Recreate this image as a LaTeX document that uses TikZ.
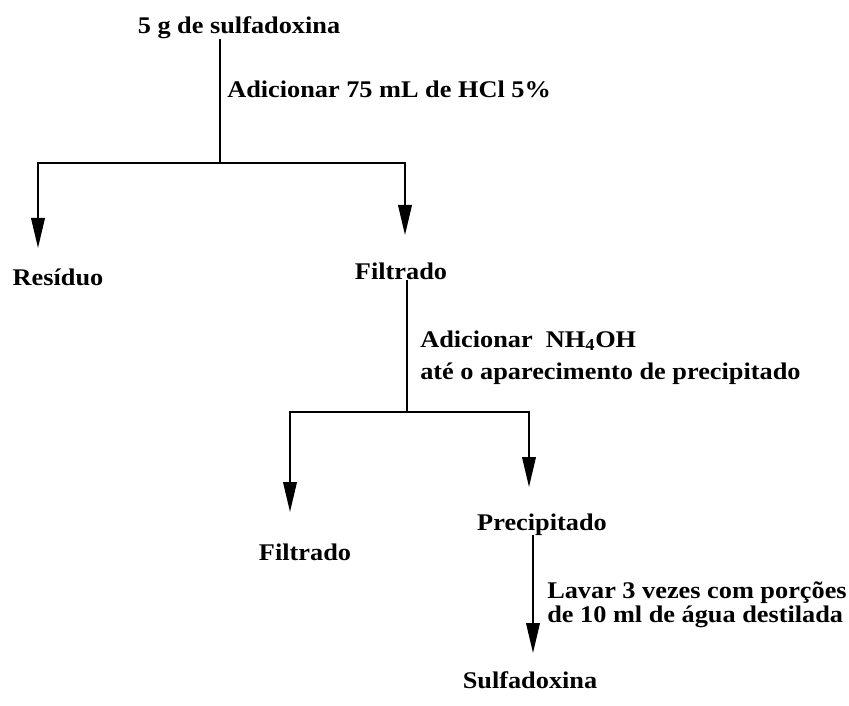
\documentclass[tikz,border=0pt]{standalone}
\usepackage{fontspec}
\setmainfont[FakeStretch=1.1]{Liberation Serif}
\usetikzlibrary{arrows.meta,calc}
\tikzset{>={Triangle[length=0.75cm,width=0.34cm]}}
\tikzstyle{stage}=[font=\bfseries\fontsize{17}{20}\selectfont,inner sep=0pt,anchor=base]
\tikzstyle{note}=[stage,anchor=base west,align=left]
\tikzstyle{flow}=[line width=1.3pt]

\begin{document}
\begin{tikzpicture}[x=0.025cm,y=-0.025cm]
\useasboundingbox (0,0) rectangle (849,705);

% substances
\node[stage] (sulf) at (239,33) {5 g de sulfadoxina};
\node[stage] (res) at (58,285) {Resíduo};
\node[stage] (filtA) at (401,279) {Filtrado};
\node[stage] (filtB) at (305,560) {Filtrado};
\node[stage] (prec) at (542,530) {Precipitado};
\node[stage] (prod) at (530,688) {Sulfadoxina};

% procedures
\node[note] (hcl) at (227,97) {Adicionar 75 mL de HCl 5\%};
\node[note,font=\bfseries\fontsize{17}{22.7}\selectfont] (base) at (420,379)
	{Adicionar\ \ NH\textsubscript{4}OH\\até o aparecimento de precipitado};
\node[note,font=\bfseries\fontsize{17}{14.2}\selectfont] (wash) at (547,622)
	{Lavar 3 vezes com porções\\de 10 ml de água destilada};

% branch points and arrow tips
\coordinate (jA) at (220,163);
\coordinate (jB) at (407,412);
\coordinate (tRes) at (38,248);
\coordinate (tFiltA) at (405,235);
\coordinate (tFiltB) at (290,512);
\coordinate (tPrec) at (529,487);
\coordinate (tProd) at (533,653);

\draw[flow] (sulf.south -| jA) -- (jA);
\draw[flow,->] (jA) -| (tRes);
\draw[flow,->] (jA) -| (tFiltA);

\draw[flow] (filtA.south -| jB) -- (jB);
\draw[flow,->] (jB) -| (tFiltB);
\draw[flow,->] (jB) -| (tPrec);

\draw[flow,->] (prec.south -| tProd) -- (tProd);

\end{tikzpicture}
\end{document}
